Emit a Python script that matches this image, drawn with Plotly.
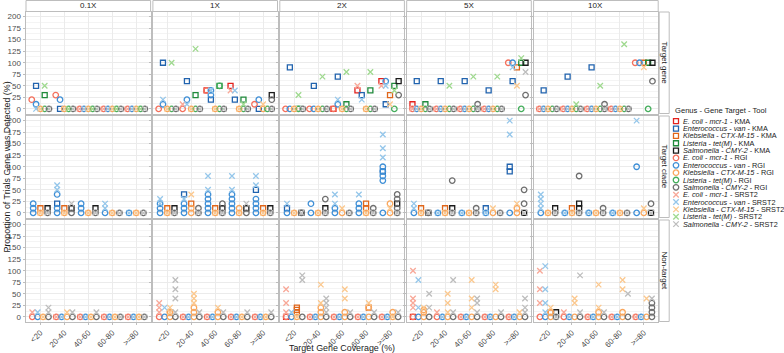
import plotly.graph_objects as go

# ---------------- data ----------------
COLUMNS = ["0.1X", "1X", "2X", "5X", "10X"]
ROWS = ["Target gene", "Target clade", "Non-target"]
COVERAGE = ["<20", "20-40", "40-60", "60-80", ">=80"]
Y_TICKS = [0, 25, 50, 75, 100, 125, 150, 175, 200]
TOOLS = ["KMA", "RGI", "SRST2"]
GENUS = {"EC": ("E. coli", "mcr-1"), "EN": ("Enterococcus", "van"),
         "KL": ("Klebsiella", "CTX-M-15"), "LI": ("Listeria", "tet(M)"),
         "SA": ("Salmonella", "CMY-2")}
GENUS_ORDER = ["EC", "EN", "KL", "LI", "SA"]
ROW_GENERA = {"Target gene": ["EC", "EN", "KL", "LI", "SA"],
              "Target clade": ["EN", "KL", "SA"],
              "Non-target": ["EC", "EN", "KL", "SA"]}

# each entry: values per coverage bin (<20, 20-40, 40-60, 60-80, >=80)
TG_01X = {
    "EC_RGI": [[20], [30], [0], [0], [0]], "EC_SRST2": [[], [], [0], [0], [0]],
    "EN_KMA": [[50], [0], [], [], []], "EN_RGI": [[10], [20], [0], [0], [0]], "EN_SRST2": [[0], [], [0], [0], [0]],
    "KL_RGI": [[0], [0], [0], [0], [0]], "KL_SRST2": [[0], [0], [0], [0], [0]],
    "LI_KMA": [[30], [], [], [], []], "LI_RGI": [[0], [0], [0], [0], [0]], "LI_SRST2": [[50], [0], [0], [0], [0]],
    "SA_RGI": [[0], [0], [0], [0], [0]], "SA_SRST2": [[0], [0], [0], [0], [0]],
}
TG_1X = {
    "EC_KMA": [[], [], [40], [50], []], "EC_RGI": [[0], [0], [40], [], [10]], "EC_SRST2": [[], [10], [], [40], []],
    "EN_KMA": [[100], [60], [20], [20], [0]], "EN_RGI": [[10], [20], [30, 40], [], [20]], "EN_SRST2": [[20], [10], [40], [40], []],
    "KL_RGI": [[0], [0], [0], [0], [0]], "KL_SRST2": [[0], [0], [0], [0], [10]],
    "LI_KMA": [[], [30], [50], [20], []], "LI_RGI": [[0], [0], [0, 50], [0], [0]], "LI_SRST2": [[100], [130], [], [10], []],
    "SA_KMA": [[], [], [], [], [30]], "SA_RGI": [[0], [0], [0], [0], [0, 20]], "SA_SRST2": [[0], [0], [0], [0], [0]],
}
TG_2X = {
    "EC_KMA": [[], [], [0], [40], [60]], "EC_RGI": [[0], [0], [0], [], []], "EC_SRST2": [[], [], [], [50], [50]],
    "EN_KMA": [[90], [50], [70], [30], [10]], "EN_RGI": [[0], [0], [10], [], [60]], "EN_SRST2": [[], [], [20], [20], [50]],
    "KL_KMA": [[], [], [], [], [30]], "KL_RGI": [[0], [0], [0], [0], []], "KL_SRST2": [[0], [0], [0], [0], [10]],
    "LI_KMA": [[0], [], [10], [40], [50]], "LI_RGI": [[0], [0], [0], [0], [0]], "LI_SRST2": [[30], [70], [80], [80], [40]],
    "SA_KMA": [[], [], [], [], [60]], "SA_RGI": [[0], [0], [0], [0], [30]], "SA_SRST2": [[0], [0], [0], [0], []],
}
TG_5X = {
    "EC_KMA": [[10], [], [], [], []], "EC_RGI": [[0], [0], [0], [0], [100]], "EC_SRST2": [[0], [0], [0], [0], []],
    "EN_KMA": [[60], [60], [60], [40], [60]], "EN_RGI": [[0], [0], [0], [0], [100]], "EN_SRST2": [[0], [0], [0], [0], [90]],
    "KL_KMA": [[], [], [], [], [90]], "KL_RGI": [[0], [0], [0], [0], []], "KL_SRST2": [[0], [0], [0], [0], [50]],
    "LI_KMA": [[10], [], [], [], [100]], "LI_RGI": [[0], [0], [0], [0], [0]], "LI_SRST2": [[], [50], [70], [70], [110]],
    "SA_KMA": [[], [], [], [], [100]], "SA_RGI": [[0], [0], [0, 10], [0], [30]], "SA_SRST2": [[0], [0], [0], [0], [80]],
}
TG_10X = {
    "EC_RGI": [[0], [0], [0], [0], [100]], "EC_SRST2": [[0], [0], [0], [0], []],
    "EN_KMA": [[40], [70], [90], [], []], "EN_RGI": [[0], [0], [0], [0], [100]], "EN_SRST2": [[0], [0], [0], [0], []],
    "KL_KMA": [[], [], [], [], [100]], "KL_RGI": [[0], [0], [0], [0], []], "KL_SRST2": [[0], [0], [0], [0], [90]],
    "LI_KMA": [[], [], [], [], [100]], "LI_RGI": [[0], [0], [0], [0], [0]], "LI_SRST2": [[], [10], [50], [140], []],
    "SA_KMA": [[], [], [], [], [100]], "SA_RGI": [[0], [0], [0, 10], [0], [60]], "SA_SRST2": [[0], [0], [0], [0], []],
}
TC_01X = {
    "EN_KMA": [[], [20], [], [], []], "EN_RGI": [[0, 10, 20], [0, 10, 40], [0, 10, 20], [0], [0]],
    "EN_SRST2": [[], [50, 60], [], [10, 20], [0]],
    "KL_KMA": [[10], [10], [], [], []], "KL_RGI": [[0], [0], [0], [0], [0]], "KL_SRST2": [[0], [0], [0], [0], [0]],
    "SA_KMA": [[10], [10], [10], [], []], "SA_RGI": [[0], [0], [0], [0], [0]], "SA_SRST2": [[0], [20], [0], [0], [0]],
}
TC_1X = {
    "EN_KMA": [[], [40], [], [], [50]],
    "EN_RGI": [[0, 10, 20], [0, 10, 20], [0, 10, 20, 30, 40], [0, 10, 20, 30, 40], [0, 10, 20, 30]],
    "EN_SRST2": [[20, 30], [30], [50, 80], [50, 80], [60, 80]],
    "KL_KMA": [[10], [20], [10], [], [10]], "KL_RGI": [[0], [0, 10], [0], [0, 10], [0]], "KL_SRST2": [[0], [40], [0], [0], [0]],
    "SA_KMA": [[10], [], [10], [10], [10]], "SA_RGI": [[0], [0, 10], [0, 20], [0], [0]], "SA_SRST2": [[0], [0], [0], [20], [0]],
}
TC_2X = {
    "EN_KMA": [[10], [], [], [], [90]], "EN_RGI": [[0], [0, 20], [0, 10], [0, 10, 20], [0, 70, 80, 90, 100]],
    "EN_SRST2": [[20], [], [20, 40], [40], [120, 140, 170]],
    "KL_KMA": [[], [], [], [10, 20], []], "KL_RGI": [[0], [0], [0], [0], [0, 20]], "KL_SRST2": [[0], [0], [10], [0], [10]],
    "SA_KMA": [[0], [10], [], [], [20]], "SA_RGI": [[0], [0, 30], [0], [0, 10], [0, 10, 30, 40]],
    "SA_SRST2": [[0], [0], [0], [0], [0]],
}
TC_5X = {
    "EN_KMA": [[], [], [], [10], [90, 100]], "EN_RGI": [[0], [0], [0], [0], [0]],
    "EN_SRST2": [[10, 20], [0], [0], [0], [170, 200]],
    "KL_KMA": [[10], [10], [], [], []], "KL_RGI": [[0], [0], [0], [0], [0, 10]], "KL_SRST2": [[0], [0], [0], [10], [20]],
    "SA_KMA": [[0], [10], [], [], [0]], "SA_RGI": [[0], [0, 70], [0, 10], [0], [20, 50]], "SA_SRST2": [[0], [0], [0], [0], [0]],
}
TC_10X = {
    "EN_RGI": [[0], [0], [0], [0], [0, 100]], "EN_SRST2": [[10, 20, 30, 40], [0], [0], [0], [200]],
    "KL_KMA": [[], [10], [], [], []], "KL_RGI": [[0], [0], [0], [0], [0]], "KL_SRST2": [[0], [0], [0], [0], [10]],
    "SA_KMA": [[10], [10, 20], [], [], [0]], "SA_RGI": [[0], [0, 80], [0, 10], [0], [20]], "SA_SRST2": [[0], [0], [0], [0], [0]],
}
NT_01X = {
    "EC_RGI": [[0], [0], [0], [0], [0]], "EC_SRST2": [[10], [0], [0], [0], [0]],
    "EN_RGI": [[0], [0], [0], [0], [0]], "EN_SRST2": [[10], [0], [0], [0], [0]],
    "KL_RGI": [[0], [0], [0], [0], [0]], "KL_SRST2": [[0], [10], [0], [0], [0]],
    "SA_RGI": [[0], [0], [0], [0], [0]], "SA_SRST2": [[10, 20], [10], [10], [0], [0]],
}
NT_1X = {
    "EC_RGI": [[0], [0], [0], [0], [0]], "EC_SRST2": [[10, 20, 30], [0], [0], [0], [0]],
    "EN_RGI": [[0], [0], [0], [0], [0]], "EN_SRST2": [[20], [0], [0], [0], [0]],
    "KL_KMA": [[10], [], [], [], []], "KL_RGI": [[0, 10], [0, 10, 20], [0, 10], [0], [0]],
    "KL_SRST2": [[10, 20], [30, 40, 50], [20], [0], [0]],
    "SA_RGI": [[0], [0], [0], [0], [0]], "SA_SRST2": [[10, 40, 60, 80], [10], [10], [10], [10]],
}
NT_2X = {
    "EC_KMA": [[0], [], [], [], []], "EC_RGI": [[0], [0], [0], [0], [0]], "EC_SRST2": [[10, 30, 60], [0], [0], [0], [0]],
    "EN_RGI": [[0], [0], [0], [0], [0]], "EN_SRST2": [[10], [0], [0], [0], [0]],
    "KL_KMA": [[10, 15, 20], [], [], [20], []], "KL_RGI": [[0], [0, 10, 20], [0, 10], [0, 20], [0, 10]],
    "KL_SRST2": [[0], [30, 70], [40, 60], [30], [0]],
    "SA_RGI": [[0], [0], [0], [0], [0]], "SA_SRST2": [[80, 90], [10, 20, 30, 40], [10], [10], [10]],
}
NT_5X = {
    "EC_KMA": [[0], [], [], [], []], "EC_RGI": [[0], [0], [0], [0], [0]], "EC_SRST2": [[20, 30, 40, 100], [10], [0], [0], [0]],
    "EN_RGI": [[0], [0], [0], [0], [0]], "EN_SRST2": [[20, 80], [0], [0], [0], [0]],
    "KL_RGI": [[0, 10, 15], [0], [0], [0], [0]], "KL_SRST2": [[20], [10, 30, 50], [20, 40, 80], [60, 70], [10]],
    "SA_RGI": [[0], [0], [0], [0], [0]], "SA_SRST2": [[20, 50], [10, 80], [10, 30, 40], [10], [10, 20, 40]],
}
NT_10X = {
    "EC_RGI": [[0], [0], [0], [0], [0]], "EC_SRST2": [[30, 60, 100], [10], [0], [0], [0]],
    "EN_RGI": [[0], [0], [0], [0], [0]], "EN_SRST2": [[10, 30, 60, 110], [0], [0], [0], [0]],
    "KL_KMA": [[10], [], [], [], []], "KL_RGI": [[0, 10], [0], [0, 10], [0, 10], [0]],
    "KL_SRST2": [[20], [30, 40], [20, 70], [60, 80], [40]],
    "SA_KMA": [[10], [], [], [], []], "SA_RGI": [[0], [0], [0], [0], [0, 10, 20, 30]],
    "SA_SRST2": [[0], [10, 90], [10], [50], [40]],
}

FACETS = {
    "Target gene": [TG_01X, TG_1X, TG_2X, TG_5X, TG_10X],
    "Target clade": [TC_01X, TC_1X, TC_2X, TC_5X, TC_10X],
    "Non-target": [NT_01X, NT_1X, NT_2X, NT_5X, NT_10X],
}

# ---------------- styling ----------------
COLORS = {
    "EC_KMA": "#E3211C", "EN_KMA": "#2163AE", "KL_KMA": "#E0661A", "LI_KMA": "#1F8A3B", "SA_KMA": "#1A1A1A",
    "EC_RGI": "#F4705C", "EN_RGI": "#3F8FD6", "KL_RGI": "#F9A65C", "LI_RGI": "#45AE5C", "SA_RGI": "#6E6E6E",
    "EC_SRST2": "#F8A898", "EN_SRST2": "#94C6EA", "KL_SRST2": "#FBC88E", "LI_SRST2": "#9FD98F", "SA_SRST2": "#BDBDBD",
}
SYMBOL = {"KMA": "square-open", "RGI": "circle-open", "SRST2": "x-thin-open"}
MSIZE = {"KMA": 5, "RGI": 5.5, "SRST2": 5.5}

W, H = 784, 353
FONT = "Liberation Sans, Arial, sans-serif"


def px(x):
    return x / W


def py(y):
    return 1 - y / H


COL_X0, COL_W, COL_PITCH = 26.0, 124.6, 126.9
ROW_Y0, ROW_H, ROW_PITCH = 12.0, 101.5, 104.0
BORDER = "#BDBDBD"
GRID = "#EBEBEB"

fig = go.Figure()
layout = {}
shapes = []
annotations = []

for r, row in enumerate(ROWS):
    genera = ROW_GENERA[row]
    n = len(genera)
    for c, col in enumerate(COLUMNS):
        k = r * 5 + c + 1
        xa = "x" if k == 1 else f"x{k}"
        ya = "y" if k == 1 else f"y{k}"
        x0 = COL_X0 + c * COL_PITCH
        x1 = x0 + COL_W
        y0 = ROW_Y0 + r * ROW_PITCH
        y1 = y0 + ROW_H
        layout["xaxis" if k == 1 else f"xaxis{k}"] = dict(
            domain=[px(x0), px(x1)], anchor=ya, range=[0.4, 5.6],
            tickvals=[1, 2, 3, 4, 5], ticktext=COVERAGE, showticklabels=(r == 2),
            tickangle=-45, tickfont=dict(size=8, color="#4D4D4D", family=FONT),
            ticks="outside", ticklen=2.5, tickcolor=BORDER, tickwidth=0.8,
            showgrid=True, gridcolor=GRID, gridwidth=0.7, zeroline=False,
            showline=True, mirror=True, linecolor=BORDER, linewidth=1, fixedrange=True)
        layout["yaxis" if k == 1 else f"yaxis{k}"] = dict(
            domain=[py(y1), py(y0)], anchor=xa, range=[-10, 210],
            tickvals=Y_TICKS, showticklabels=(c == 0),
            tickfont=dict(size=8, color="#4D4D4D", family=FONT),
            ticks="outside", ticklen=2.5, tickcolor=BORDER, tickwidth=0.8,
            showgrid=True, gridcolor=GRID, gridwidth=0.7, zeroline=False,
            minor=dict(showgrid=True, gridcolor="#F4F4F4", gridwidth=0.5, tick0=12.5, dtick=25),
            showline=True, mirror=True, linecolor=BORDER, linewidth=1, fixedrange=True)

        facet = FACETS[row][c]
        for tool in TOOLS:
            for gi, g in enumerate(genera):
                key = f"{g}_{tool}"
                vals = facet.get(key)
                if not vals:
                    continue
                off = (gi - (n - 1) / 2) * 0.9 / n
                xs, ys = [], []
                for ci, lst in enumerate(vals):
                    for v in lst:
                        xs.append(ci + 1 + off)
                        ys.append(v)
                if not xs:
                    continue
                fig.add_trace(go.Scatter(
                    x=xs, y=ys, mode="markers", xaxis=xa, yaxis=ya, showlegend=False,
                    hoverinfo="skip", cliponaxis=False,
                    marker=dict(symbol=SYMBOL[tool], size=MSIZE[tool], color=COLORS[key],
                                line=dict(width=1.3, color=COLORS[key]))))

        # column strips (top)
        if r == 0:
            shapes.append(dict(type="rect", xref="paper", yref="paper",
                               x0=px(x0), x1=px(x1), y0=py(11.5), y1=py(0.5),
                               fillcolor="white", line=dict(color=BORDER, width=1)))
            annotations.append(dict(text=col, xref="paper", yref="paper", x=px((x0 + x1) / 2),
                                    y=py(6), showarrow=False, xanchor="center", yanchor="middle",
                                    font=dict(size=8, color="#1A1A1A", family=FONT)))
    # row strips (right)
    y0 = ROW_Y0 + r * ROW_PITCH
    y1 = y0 + ROW_H
    sx0 = COL_X0 + 4 * COL_PITCH + COL_W + 1
    shapes.append(dict(type="rect", xref="paper", yref="paper",
                       x0=px(sx0), x1=px(sx0 + 10), y0=py(y1), y1=py(y0),
                       fillcolor="white", line=dict(color=BORDER, width=1)))
    annotations.append(dict(text=row, xref="paper", yref="paper", x=px(sx0 + 5),
                            y=py((y0 + y1) / 2), showarrow=False, textangle=90,
                            xanchor="center", yanchor="middle",
                            font=dict(size=8, color="#1A1A1A", family=FONT)))

# axis titles
annotations.append(dict(text="Target Gene Coverage (%)", xref="paper", yref="paper",
                        x=px(342), y=py(347.5), showarrow=False, xanchor="center", yanchor="middle",
                        font=dict(size=8.9, color="#1A1A1A", family=FONT)))
annotations.append(dict(text="Proportion of Trials Gene was Detected (%)", xref="paper", yref="paper",
                        x=px(6.5), y=py(167), showarrow=False, textangle=-90, xanchor="center",
                        yanchor="middle", font=dict(size=8.9, color="#1A1A1A", family=FONT)))

# manual legend on its own axis
LEG_TOP, LEG_BOT = 100.0, 240.0
layout["xaxis16"] = dict(domain=[px(668), 1.0], range=[668, 784], visible=False, fixedrange=True, anchor="y16")
layout["yaxis16"] = dict(domain=[py(LEG_BOT), py(LEG_TOP)], range=[LEG_BOT, LEG_TOP], visible=False,
                         fixedrange=True, anchor="x16")
annotations.append(dict(text="Genus - Gene Target - Tool", xref="paper", yref="paper",
                        x=px(672.5), y=py(110.5), showarrow=False, xanchor="left", yanchor="middle",
                        font=dict(size=7.6, color="#1A1A1A", family=FONT)))
i = 0
for tool in TOOLS:
    for g in GENUS_ORDER:
        key = f"{g}_{tool}"
        yy = 121.2 + 7.35 * i
        fig.add_trace(go.Scatter(
            x=[676], y=[yy], mode="markers", xaxis="x16", yaxis="y16", showlegend=False,
            hoverinfo="skip", cliponaxis=False,
            marker=dict(symbol=SYMBOL[tool], size=MSIZE[tool], color=COLORS[key],
                        line=dict(width=1.3, color=COLORS[key]))))
        gname, gene = GENUS[g]
        annotations.append(dict(text=f"<i>{gname}</i> - <i>{gene}</i> - {tool}", xref="paper", yref="paper",
                                x=px(681), y=py(yy), showarrow=False, xanchor="left", yanchor="middle",
                                font=dict(size=7.3, color="#1A1A1A", family=FONT)))
        i += 1

fig.update_layout(
    width=W, height=H, margin=dict(l=0, r=0, t=0, b=0),
    paper_bgcolor="white", plot_bgcolor="white",
    font=dict(family=FONT, size=8, color="#1A1A1A"),
    shapes=shapes, annotations=annotations, showlegend=False, **layout)

fig.write_html("out.html", config={"displayModeBar": False},
               post_script="document.body.style.margin='0px';document.body.style.overflow='hidden';")
